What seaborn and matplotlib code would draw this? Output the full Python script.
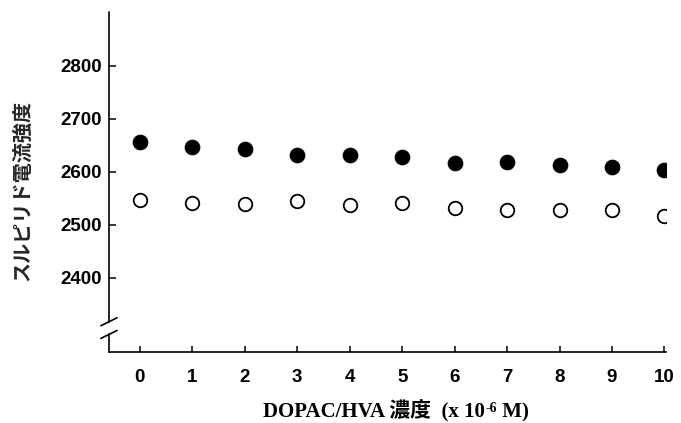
import matplotlib
matplotlib.use("Agg")
import matplotlib.pyplot as plt
import matplotlib.transforms as mtransforms
import numpy as np
import pandas as pd
import seaborn as sns

# Sulpiride current vs. DOPAC/HVA concentration
concentration = [0, 1, 2, 3, 4, 5, 6, 7, 8, 9, 10]
current_filled = [2657, 2647, 2643, 2632, 2632, 2628, 2617, 2619, 2613, 2610, 2604]
current_open = [2547, 2541, 2539, 2544, 2538, 2541, 2531, 2528, 2528, 2527, 2516]
y_ticks = [2400, 2500, 2600, 2700, 2800]

df_filled = pd.DataFrame({"conc": concentration, "current": current_filled})
df_open = pd.DataFrame({"conc": concentration, "current": current_open})

sns.set_style("white")

fig = plt.figure(figsize=(6.81, 4.23), dpi=100)
ax = fig.add_axes([0.160, 0.168, 0.818, 0.804])

sns.scatterplot(data=df_filled, x="conc", y="current", ax=ax, s=110,
                color="black", edgecolor="black", linewidth=0.8, zorder=3)
sns.scatterplot(data=df_open, x="conc", y="current", ax=ax, s=95,
                facecolor="white", edgecolor="black", linewidth=1.3, zorder=3)

ymin, ymax = 2260, 2902
ax.set_xlim(-0.59, 10.03)
ax.set_ylim(ymin, ymax)
ax.set_xticks(concentration)
ax.set_yticks(y_ticks)

tick_font = {"family": "Liberation Sans", "weight": "bold", "size": 13.5}
ax.set_xticklabels([str(c) for c in concentration], fontdict=tick_font)
ax.set_yticklabels([str(t) for t in y_ticks], fontdict=tick_font)
ax.tick_params(axis="x", bottom=True, direction="in", length=4, width=1.1,
               pad=12, colors="black")
ax.tick_params(axis="y", left=True, direction="in", length=5, width=1.1,
               pad=5, colors="black")

for side in ["top", "right", "left"]:
    ax.spines[side].set_visible(False)
ax.spines["bottom"].set_linewidth(1.2)
ax.spines["bottom"].set_color("black")

# left axis drawn in two pieces with a break mark
brk_lo, brk_hi = 2293, 2317
trans = mtransforms.blended_transform_factory(ax.transAxes, ax.transData)
ax.plot([0, 0], [ymin, brk_lo], transform=trans, color="black", lw=1.2, clip_on=False, zorder=4)
ax.plot([0, 0], [brk_hi, ymax], transform=trans, color="black", lw=1.2, clip_on=False, zorder=4)
dx, dy = 0.0145, 7.5
for yc in (brk_lo, brk_hi):
    ax.plot([-dx, dx], [yc - dy, yc + dy], transform=trans, color="black",
            lw=1.2, clip_on=False, zorder=4)

ax.set_xlabel("")
ax.set_ylabel("")
ax.text(-0.156, 0.476, "スルピリド電流強度", transform=ax.transAxes,
        rotation=90, ha="center", va="center", fontsize=14.5,
        family=["Noto Sans CJK JP", "DejaVu Sans"], weight="bold")

# x-axis title assembled from pieces so the exponent sits raised
label_font = dict(family=["Liberation Serif", "Noto Sans CJK JP"],
                  weight="bold", color="black")
pieces = [("DOPAC/HVA 濃度  (x 10", 0, 15), ("-6", 5.5, 10), (" M)", 0, 15)]
fig.canvas.draw()
renderer = fig.canvas.get_renderer()
texts = []
for s, rise, size in pieces:
    t = fig.text(0, 0, s, ha="left", va="baseline", fontsize=size, **label_font)
    texts.append((t, rise))
widths = [t.get_window_extent(renderer).width for t, _ in texts]
total = sum(widths)
center_px = ax.transAxes.transform((0.515, 0))[0]
base_px = 423 - 417
x = center_px - total / 2
for (t, rise), w in zip(texts, widths):
    t.set_position((x / 681, (base_px + rise) / 423))
    x += w

fig.savefig("out.png", dpi=100, facecolor="white")
